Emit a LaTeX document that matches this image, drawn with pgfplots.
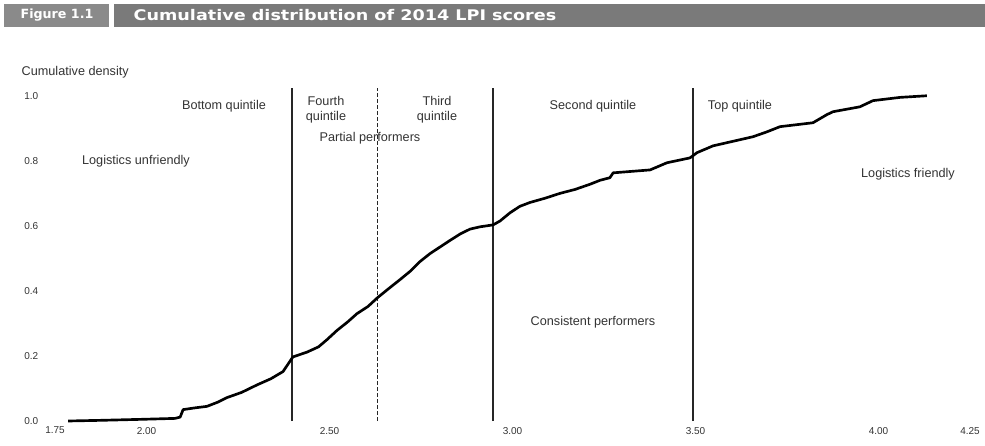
\documentclass[border=0pt]{standalone}
\usepackage{fontspec}
\setmainfont{Liberation Sans}
\newfontfamily\titlefont{DejaVu Sans}
\usepackage{pgfplots}
\pgfplotsset{compat=1.18}
\definecolor{txt}{HTML}{333333}
\definecolor{hdrA}{HTML}{8A8A8A}
\definecolor{hdrB}{HTML}{7A7A7A}
\begin{document}
\begin{tikzpicture}[x=0.75pt,y=0.75pt]
% header bar
\fill[hdrA] (4,419) rectangle (109,442);
\fill[hdrB] (114,419) rectangle (985,442);
\node[text=white,font=\titlefont\bfseries\fontsize{9.5}{11}\selectfont] at (57,430.5) {Figure 1.1};
\node[anchor=west,text=white,font=\titlefont\bfseries\fontsize{11}{12}\selectfont,xscale=1.2] at (128,430.5) {Cumulative distribution of 2014 LPI scores};
\node[anchor=west,text=txt,font=\fontsize{9.5}{11}\selectfont] at (17,374) {Cumulative density};
\begin{axis}[
  at={(41.25pt,18.75pt)}, anchor=south west,
  scale only axis, width=686.25pt, height=251.25pt,
  xmin=1.75, xmax=4.25, ymin=0, ymax=1.03,
  axis line style={draw=none}, clip=false,
  xtick={1.75,2,2.5,3,3.5,4,4.25},
  xticklabels={1.75,2.00,2.50,3.00,3.50,4.00,4.25},
  ytick={0,0.2,0.4,0.6,0.8,1.0},
  yticklabels={0.0,0.2,0.4,0.6,0.8,1.0},
  major tick length=0pt, tick style={draw=none},
  tick label style={font=\fontsize{7.5}{8}\selectfont, text=txt},
  xticklabel style={yshift=-1pt},
  yticklabel style={xshift=-9pt},
]
% category boundaries
\addplot[black!85, line width=1.2pt] coordinates {(2.397,0) (2.397,1.025)};
\addplot[black!85, line width=0.9pt, dash pattern=on 3pt off 1.5pt] coordinates {(2.632,0) (2.632,1.025)};
\addplot[black!85, line width=1.2pt] coordinates {(2.947,0) (2.947,1.025)};
\addplot[black!85, line width=1.2pt] coordinates {(3.493,0) (3.493,1.025)};
% cumulative distribution of LPI scores
\addplot[black, line width=2pt, line join=round] coordinates {
(1.786,0.000) (1.873,0.002) (1.982,0.005) (2.078,0.008) (2.092,0.012)
(2.100,0.035) (2.130,0.040) (2.165,0.045) (2.195,0.058) (2.220,0.072)
(2.260,0.088) (2.302,0.111) (2.340,0.130) (2.373,0.152) (2.400,0.197)
(2.439,0.212) (2.470,0.228) (2.493,0.250) (2.520,0.278) (2.550,0.305)
(2.575,0.330) (2.605,0.352) (2.632,0.380) (2.665,0.410) (2.693,0.435)
(2.720,0.460) (2.747,0.490) (2.775,0.515) (2.802,0.535) (2.829,0.555)
(2.857,0.575) (2.884,0.590) (2.911,0.597) (2.947,0.603) (2.966,0.615)
(2.993,0.640) (3.020,0.660) (3.048,0.672) (3.089,0.685) (3.130,0.700)
(3.171,0.712) (3.212,0.728) (3.239,0.740) (3.266,0.748) (3.275,0.763)
(3.376,0.772) (3.422,0.794) (3.485,0.809) (3.504,0.825) (3.548,0.846)
(3.622,0.865) (3.657,0.874) (3.695,0.889) (3.731,0.905) (3.821,0.917)
(3.859,0.942) (3.876,0.951) (3.949,0.966) (3.985,0.985) (4.059,0.995)
(4.132,1.000)};
\end{axis}
% annotations
\begin{scope}[every node/.style={text=txt,font=\fontsize{9.5}{11}\selectfont,align=center}]
\node at (224,340) {Bottom quintile};
\node at (326,336) {Fourth\\quintile};
\node at (437,336) {Third\\quintile};
\node at (370,308) {Partial performers};
\node at (593,340) {Second quintile};
\node at (740,340) {Top quintile};
\node at (136,285) {Logistics unfriendly};
\node at (908,272) {Logistics friendly};
\node at (593,124) {Consistent performers};
\end{scope}
\pgfresetboundingbox
\path (0,0) rectangle (985,446);
\end{tikzpicture}
\end{document}
